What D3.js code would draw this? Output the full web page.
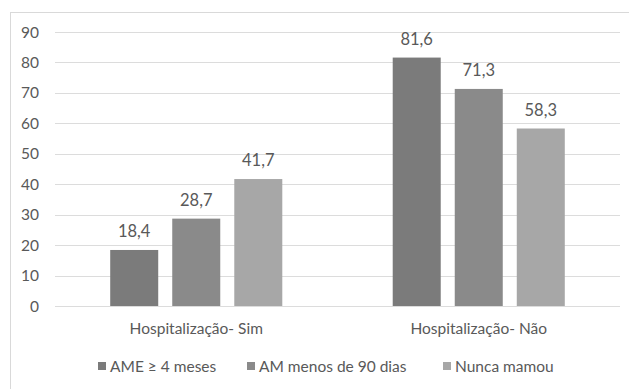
<!DOCTYPE html>
<html>
<head>
<meta charset="utf-8">
<script src="https://cdn.jsdelivr.net/npm/d3@7"></script>
<style>
	body { margin: 0; background: #fff; }
	text { font-family: Lato, "Open Sans", sans-serif; fill: #595959; }
</style>
</head>
<body>
<script>
const categories = ["Hospitalização- Sim", "Hospitalização- Não"];
const seriesNames = ["AME ≥ 4 meses", "AM menos de 90 dias", "Nunca mamou"];
const ame = [18.4, 81.6];
const amMenos90 = [28.7, 71.3];
const nuncaMamou = [41.7, 58.3];
const yTicks = [0, 10, 20, 30, 40, 50, 60, 70, 80, 90];

const seriesValues = [ame, amMenos90, nuncaMamou];
const colors = ["#7b7b7b", "#8a8a8a", "#a7a7a7"];

const width = 629, height = 389;
const svg = d3.select("body").append("svg")
	.attr("width", width)
	.attr("height", height);

// chart frame
svg.append("rect")
	.attr("x", 10.5).attr("y", 12.5)
	.attr("width", 630).attr("height", 390)
	.attr("fill", "none")
	.attr("stroke", "#d9d9d9");

const plot = { left: 55, right: 620, top: 32, bottom: 306 };

const y = d3.scaleLinear().domain([0, 90]).range([plot.bottom, plot.top]);
const x0 = d3.scaleBand().domain(categories).range([plot.left, plot.right]);
const x1 = d3.scaleBand()
	.domain(seriesNames)
	.range([0, x0.bandwidth()])
	.paddingInner(0.226)
	.paddingOuter(0.89);

// gridlines
svg.append("g")
	.selectAll("line")
	.data(yTicks)
	.join("line")
	.attr("x1", plot.left).attr("x2", plot.right)
	.attr("y1", d => Math.round(y(d)) + 0.5)
	.attr("y2", d => Math.round(y(d)) + 0.5)
	.attr("stroke", "#dcdcdc")
	.attr("stroke-width", 1);

// y tick labels
svg.append("g")
	.selectAll("text")
	.data(yTicks)
	.join("text")
	.attr("x", 39)
	.attr("y", d => y(d))
	.attr("dy", "0.36em")
	.attr("text-anchor", "end")
	.style("font-size", "15.5px")
	.text(d => d);

// bars
const groups = svg.append("g")
	.selectAll("g")
	.data(categories)
	.join("g")
	.attr("transform", d => `translate(${x0(d)},0)`);

groups.selectAll("rect")
	.data((c, ci) => seriesNames.map((s, si) => ({ s, si, v: seriesValues[si][ci] })))
	.join("rect")
	.attr("x", d => x1(d.s))
	.attr("width", x1.bandwidth())
	.attr("y", d => y(d.v))
	.attr("height", d => y(0) - y(d.v))
	.attr("fill", d => colors[d.si]);

groups.selectAll("text")
	.data((c, ci) => seriesNames.map((s, si) => ({ s, si, v: seriesValues[si][ci] })))
	.join("text")
	.attr("x", d => x1(d.s) + x1.bandwidth() / 2)
	.attr("y", d => y(d.v) - 13)
	.attr("text-anchor", "middle")
	.style("font-size", "16.5px")
	.text(d => d3.format(".1f")(d.v).replace(".", ","));

// category labels
svg.append("g")
	.selectAll("text")
	.data(categories)
	.join("text")
	.attr("x", d => x0(d) + x0.bandwidth() / 2)
	.attr("y", 334)
	.attr("text-anchor", "middle")
	.style("font-size", "15.5px")
	.text(d => d);

// legend
const legendX = [98, 247, 443];
const legend = svg.append("g")
	.selectAll("g")
	.data(seriesNames)
	.join("g")
	.attr("transform", (d, i) => `translate(${legendX[i]},362)`);
legend.append("rect")
	.attr("width", 8).attr("height", 8)
	.attr("fill", (d, i) => colors[i]);
legend.append("text")
	.attr("x", 12)
	.attr("y", 4)
	.attr("dy", "0.36em")
	.style("font-size", "15.5px")
	.text(d => d);
</script>
</body>
</html>
